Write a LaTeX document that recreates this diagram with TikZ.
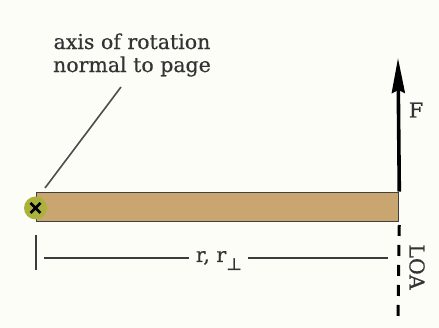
\documentclass[tikz,border=0pt]{standalone}
\usepackage{fontspec}
\setmainfont{DejaVu Serif}
\usetikzlibrary{arrows.meta}
\definecolor{bg}{HTML}{FDFDF8}
\definecolor{tan}{RGB}{201,166,112}
\definecolor{pivotc}{RGB}{170,178,60}
\definecolor{dimc}{RGB}{60,60,60}
\tikzset{
  lbl/.style={font=\fontsize{20.5}{23}\selectfont\addfontfeature{FakeBold=0.5}, text=black!80, inner sep=0pt},
  dimline/.style={draw=dimc, line width=2.4pt},
}
\begin{document}
\begin{tikzpicture}[x=1pt,y=1pt]
\fill[bg] (0,0) rectangle (439,328);
\useasboundingbox (0,0) rectangle (439,328);
% bar
\node[draw=black!75, line width=1.3pt, fill=tan, minimum width=362pt, minimum height=29pt, inner sep=0pt, anchor=south west] (bar) at (36,106) {};
% pivot
\node[circle, fill=pivotc, minimum size=23pt, inner sep=0pt] (pivot) at (35.5,120) {};
\draw[line width=2.6pt, black] ([shift={(-5,-5)}]pivot.center) -- ([shift={(5,5)}]pivot.center)
  ([shift={(-5,5)}]pivot.center) -- ([shift={(5,-5)}]pivot.center);
% force
\coordinate (ftip) at (398,270);
\draw[line width=3.6pt, -{Stealth[length=35pt, width=13pt, inset=3pt]}] (bar.north east) -- (ftip);
\node[lbl] (F) at (416,218) {F};
% line of action
\coordinate (loaend) at (398,11);
\draw[line width=3pt, dash pattern=on 11pt off 9pt, dash phase=-3pt] (bar.south east) -- (loaend);
\node[lbl, rotate=-90] (LOA) at (417,61) {LOA};
% dimension
\coordinate (tickT) at (36,93);
\coordinate (tickB) at (36,58);
\draw[dimline] (tickT) -- (tickB);
\node[lbl, anchor=base] (r) at (219,66) {r, r\raisebox{-8pt}{\fontsize{17}{17}\selectfont ⊥}};
\coordinate (dimL) at (44,70);
\coordinate (dimR) at (388,70);
\draw[dimline] (dimL) -- ([xshift=-7pt]r.west |- dimL);
\draw[dimline] ([xshift=6pt]r.east |- dimR) -- (dimR);
% axis label
\node[lbl, align=center] (axis) at (132,273) {axis of rotation\\normal to page};
\coordinate (leadend) at (121,241);
\draw[line width=1.6pt, black!70] (45,140) -- (leadend);
\end{tikzpicture}
\end{document}
